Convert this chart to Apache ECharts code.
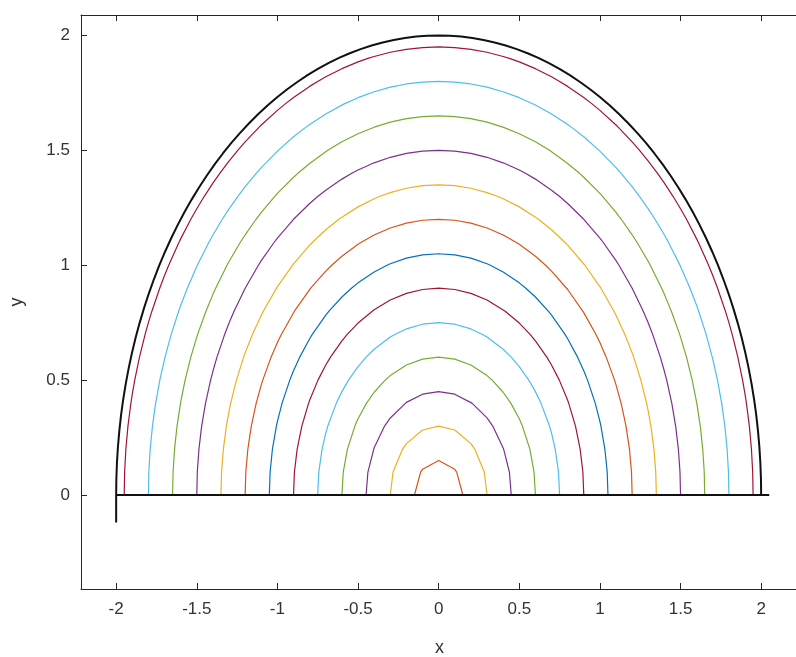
<!DOCTYPE html>
<html>
<head>
<meta charset="utf-8">
<title>Contour rings</title>
<script src="https://cdn.jsdelivr.net/npm/echarts@6/dist/echarts.min.js"></script>
<style>
  html, body { margin: 0; padding: 0; background: #ffffff; }
  #chart { width: 796px; height: 657px; }
</style>
</head>
<body>
<div id="chart"></div>
<script>
// Contour levels (radius of each ring), innermost first
var levels = [0.15, 0.30, 0.45, 0.60, 0.75, 0.90, 1.05, 1.20, 1.35, 1.50, 1.65, 1.80, 1.95];
// Line colour of each level
var levelColors = ['#D95319', '#EDB120', '#7E2F8E', '#77AC30', '#4DBEEE', '#A2142F', '#0072BD',
                   '#D95319', '#EDB120', '#7E2F8E', '#77AC30', '#4DBEEE', '#A2142F'];
// Outer boundary: radius and the short stub below the axis at its left end
var boundaryRadius = 2;
var boundaryTail = [[-2, -0.12]];
// Base segment along y = 0
var baseLine = [[-2, 0], [2.05, 0]];
// Mesh spacing the rings were traced on
var meshStep = 0.1;
// Tick values
var xTicks = [-2, -1.5, -1, -0.5, 0, 0.5, 1, 1.5, 2];
var yTicks = [0, 0.5, 1, 1.5, 2];

// Vertices of a ring of radius r where it crosses the mesh lines, ordered by angle
function ringVertices(r) {
  var pts = [[r, 0], [-r, 0]];
  var n = Math.ceil(r / meshStep) + 1;
  for (var k = -n; k <= n; k++) {
    var x = k * meshStep;
    if (Math.abs(x) < r - 1e-9) pts.push([x, Math.sqrt(r * r - x * x)]);
  }
  for (var j = 1; j <= n; j++) {
    var y = j * meshStep;
    if (y < r - 1e-9) {
      var xx = Math.sqrt(r * r - y * y);
      pts.push([xx, y]);
      pts.push([-xx, y]);
    }
  }
  pts.sort(function (a, b) { return Math.atan2(a[1], a[0]) - Math.atan2(b[1], b[0]); });
  return pts;
}

var series = levels.map(function (r, i) {
  return {
    type: 'line',
    data: ringVertices(r),
    showSymbol: false,
    symbol: 'none',
    smooth: false,
    lineStyle: { color: levelColors[i], width: 1.2 },
    z: 2,
    silent: true
  };
});

// Outer boundary: fine ring plus the stub
var outer = [];
for (var d = 0; d <= 180; d += 2) {
  var a = d * Math.PI / 180;
  outer.push([boundaryRadius * Math.cos(a), boundaryRadius * Math.sin(a)]);
}
outer = outer.concat(boundaryTail);
series.push({
  type: 'line', data: outer, symbol: 'none', showSymbol: false,
  lineStyle: { color: '#111111', width: 2 }, z: 4, silent: true
});
series.push({
  type: 'line', data: baseLine, symbol: 'none', showSymbol: false,
  lineStyle: { color: '#111111', width: 2.2 }, z: 4, silent: true
});

var axisColor = '#262626';
var labelFont = { color: '#333333', fontSize: 17, fontFamily: 'Liberation Sans, Arial, sans-serif' };

var xMin = -2.218, xMax = 2.2285;
var yMin = -0.409, yMax = 2.089;

var chart = echarts.init(document.getElementById('chart'), null, { renderer: 'canvas' });
chart.setOption({
  animation: false,
  backgroundColor: '#ffffff',
  grid: { left: 81, top: 15, width: 717, height: 574, containLabel: false, outerBoundsMode: 'none' },
  xAxis: [{
    type: 'value', min: xMin, max: xMax, position: 'bottom',
    name: 'x', nameLocation: 'middle', nameGap: 50,
    nameTextStyle: { color: '#333333', fontSize: 18, fontFamily: 'Liberation Sans, Arial, sans-serif' },
    axisLine: { show: true, onZero: false, lineStyle: { color: axisColor, width: 1 } },
    axisTick: { show: true, inside: true, length: 6, customValues: xTicks, lineStyle: { color: axisColor } },
    axisLabel: Object.assign({ show: true, margin: 12, customValues: xTicks }, labelFont),
    splitLine: { show: false }
  }, {
    type: 'value', min: xMin, max: xMax, position: 'top',
    axisLine: { show: true, onZero: false, lineStyle: { color: axisColor, width: 1 } },
    axisTick: { show: true, inside: true, length: 6, customValues: xTicks, lineStyle: { color: axisColor } },
    axisLabel: { show: false },
    splitLine: { show: false }
  }],
  yAxis: [{
    type: 'value', min: yMin, max: yMax, position: 'left',
    name: 'y', nameLocation: 'middle', nameGap: 55, nameRotate: 90,
    nameTextStyle: { color: '#333333', fontSize: 18, fontFamily: 'Liberation Sans, Arial, sans-serif' },
    axisLine: { show: true, onZero: false, lineStyle: { color: axisColor, width: 1 } },
    axisTick: { show: true, inside: true, length: 6, customValues: yTicks, lineStyle: { color: axisColor } },
    axisLabel: Object.assign({ show: true, margin: 11, customValues: yTicks }, labelFont),
    splitLine: { show: false }
  }],
  series: series
});
</script>
</body>
</html>
